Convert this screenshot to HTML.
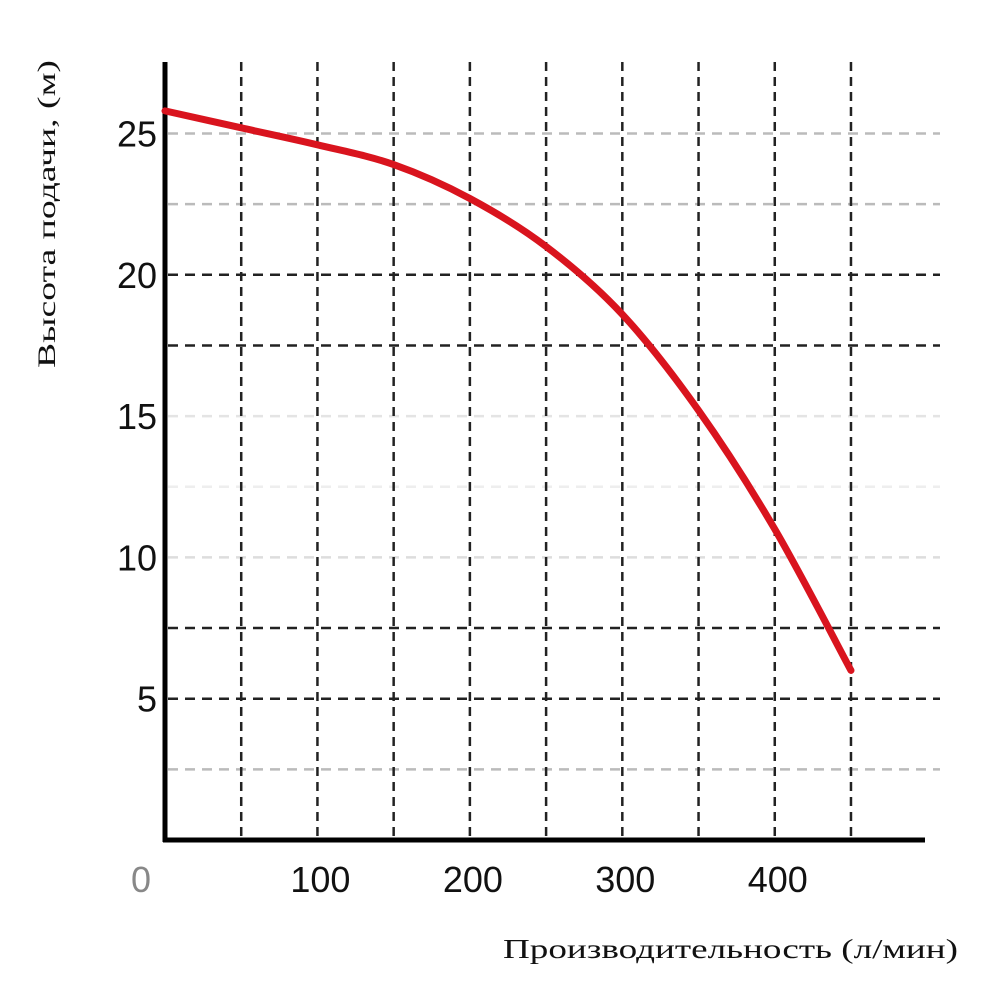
<!DOCTYPE html>
<html><head><meta charset="utf-8"><style>
html,body{margin:0;padding:0;background:#fff;}
svg{display:block;}
text{font-family:"Liberation Sans",sans-serif;}
</style></head><body>
<svg id="chart" width="1000" height="1000" viewBox="0 0 1000 1000">
<g id="grid"></g>
<g id="axes"></g>
<g id="labels"></g>
<path id="curve" fill="none" stroke="#d9141e" stroke-width="7" stroke-linecap="round" stroke-linejoin="round"/>
<text transform="translate(55,368) rotate(-90)" font-size="25" fill="#111" textLength="308" lengthAdjust="spacingAndGlyphs" style="font-family:'Liberation Serif',serif">Высота подачи, (м)</text>
<text x="503" y="958" font-size="27" fill="#111" textLength="455" lengthAdjust="spacingAndGlyphs" style="font-family:'Liberation Serif',serif">Производительность (л/мин)</text>
</svg>
<script>
const flows = [0, 50, 100, 150, 200, 250, 300, 350, 400, 450];
const heads = [25.8, 25.2, 24.6, 23.9, 22.7, 21.0, 18.6, 15.2, 11.0, 6.0];
const xTicks = [100, 200, 300, 400];
const yTicks = [5, 10, 15, 20, 25];
const vGrid = [50, 100, 150, 200, 250, 300, 350, 400, 450];
const hGrid = [2.5, 5, 7.5, 10, 12.5, 15, 17.5, 20, 22.5, 25];
const hGridShade = ["#bbb", "#222", "#222", "#ddd", "#eee", "#e4e4e4", "#222", "#222", "#bbb", "#bbb"];

const X = v => 165 + v * 1.5244;
const Y = v => 840 - v * 28.26;
const NS = "http://www.w3.org/2000/svg";
function mk(tag, attrs, parent) {
  const e = document.createElementNS(NS, tag);
  for (const k in attrs) e.setAttribute(k, attrs[k]);
  parent.appendChild(e);
  return e;
}
const grid = document.getElementById('grid');
hGrid.forEach((v, i) => {
  const l = mk('line', {x1: 168, x2: 940, y1: Y(v), y2: Y(v), stroke: hGridShade[i], 'stroke-width': 2.5, 'stroke-dasharray': '10 7'}, grid);
  
  
});
vGrid.forEach(v => {
  const l = mk('line', {x1: X(v), x2: X(v), y1: 62, y2: 838, stroke: '#222', 'stroke-width': 2.5, 'stroke-dasharray': '9 6'}, grid);
  
  
});
const axes = document.getElementById('axes');
const ya = mk('line', {x1: 165, x2: 165, y1: 62, y2: 842, stroke: '#000', 'stroke-width': 5}, axes);


const xa = mk('line', {x1: 163, x2: 925, y1: 840, y2: 840, stroke: '#000', 'stroke-width': 5}, axes);


const labels = document.getElementById('labels');
yTicks.forEach(v => {
  const t = mk('text', {x: 157, y: Y(v) + 13, 'text-anchor': 'end', 'font-size': 36, fill: '#111'}, labels);
  t.textContent = v;
  
  
});
xTicks.forEach(v => {
  const t = mk('text', {x: X(v) + 3, y: 892, 'text-anchor': 'middle', 'font-size': 36, fill: '#111'}, labels);
  t.textContent = v;
  
  
});
const z = mk('text', {x: 141, y: 892, 'text-anchor': 'middle', 'font-size': 36, fill: '#888'}, labels);
z.textContent = '0';



const pts = flows.map((f, i) => [X(f), Y(heads[i])]);
let d = 'M' + pts[0][0] + ',' + pts[0][1];
for (let i = 0; i < pts.length - 1; i++) {
  const p0 = pts[Math.max(0, i - 1)], p1 = pts[i], p2 = pts[i + 1], p3 = pts[Math.min(pts.length - 1, i + 2)];
  const c1 = [p1[0] + (p2[0] - p0[0]) / 6, p1[1] + (p2[1] - p0[1]) / 6];
  const c2 = [p2[0] - (p3[0] - p1[0]) / 6, p2[1] - (p3[1] - p1[1]) / 6];
  d += ' C' + c1[0] + ',' + c1[1] + ' ' + c2[0] + ',' + c2[1] + ' ' + p2[0] + ',' + p2[1];
}
document.getElementById('curve').setAttribute('d', d);
</script>
</body></html>
